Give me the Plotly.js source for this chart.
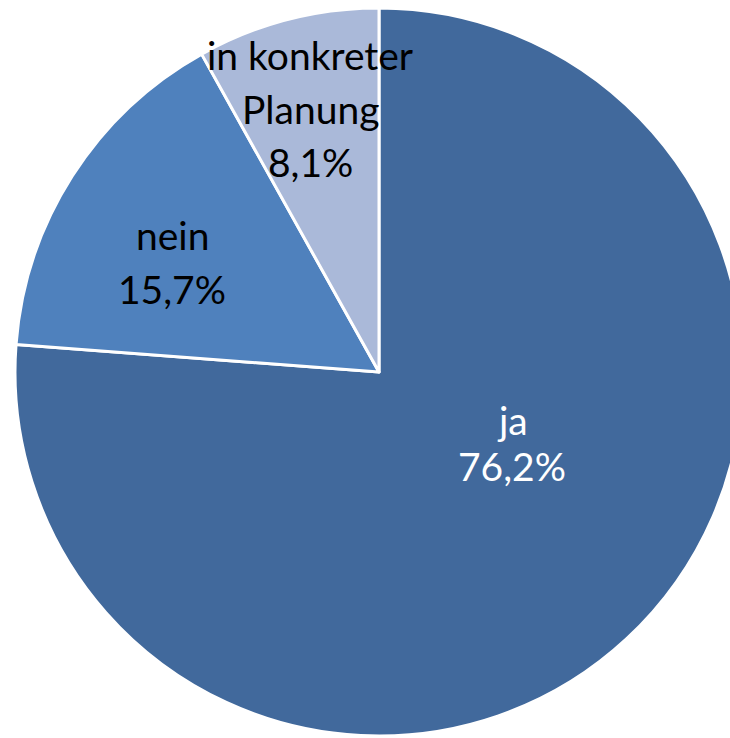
<!DOCTYPE html>
<html>
<head>
<meta charset="utf-8">
<script src="https://cdn.plot.ly/plotly-3.0.1.min.js"></script>
<style>
html,body{margin:0;padding:0;overflow:hidden;background:#fff;width:730px;height:738px;}
#chart{width:760px;height:738px;}
</style>
</head>
<body>
<div id="chart"></div>
<script>
var labels = ["ja", "nein", "in konkreter Planung"];
var labelLines = [["ja"], ["nein"], ["in konkreter", "Planung"]];
var values = [76.2, 15.7, 8.1];
var colors = ["#41699C", "#4F81BD", "#AAB9D9"];
var textColors = ["#ffffff", "#000000", "#000000"];

var W = 760, H = 738;
// label line centres in pixels (layout only): x, then y of each line
var labelX = [512, 172, 310];
var labelLineY = [[419.5, 465.5], [234.5, 288.5], [54.5, 108.5, 161.5]];

function fmt(v){ return v.toFixed(1).replace('.', ',') + '%'; }

var annotations = [];
labels.forEach(function(l, i){
  var lines = labelLines[i].concat([fmt(values[i])]);
  lines.forEach(function(t, j){
    annotations.push({
      x: labelX[i] / W,
      y: 1 - labelLineY[i][j] / H,
      xref: 'paper', yref: 'paper',
      xanchor: 'center', yanchor: 'middle',
      showarrow: false,
      text: t,
      font: {family: 'Lato, "Open Sans", sans-serif', size: 39, color: textColors[i]}
    });
  });
});

var trace = {
  type: 'pie',
  labels: labels,
  values: values,
  sort: false,
  direction: 'clockwise',
  rotation: 0,
  textinfo: 'none',
  hoverinfo: 'label+percent',
  marker: {colors: colors, line: {color: '#ffffff', width: 3}},
  domain: {x: [15 / W, 743 / W], y: [(H - 736) / H, (H - 8) / H]},
  showlegend: false
};

var layout = {
  width: W, height: H,
  margin: {l: 0, r: 0, t: 0, b: 0, pad: 0},
  paper_bgcolor: '#ffffff',
  showlegend: false,
  annotations: annotations
};

Plotly.newPlot('chart', [trace], layout, {displayModeBar: false, staticPlot: true});
</script>
</body>
</html>
